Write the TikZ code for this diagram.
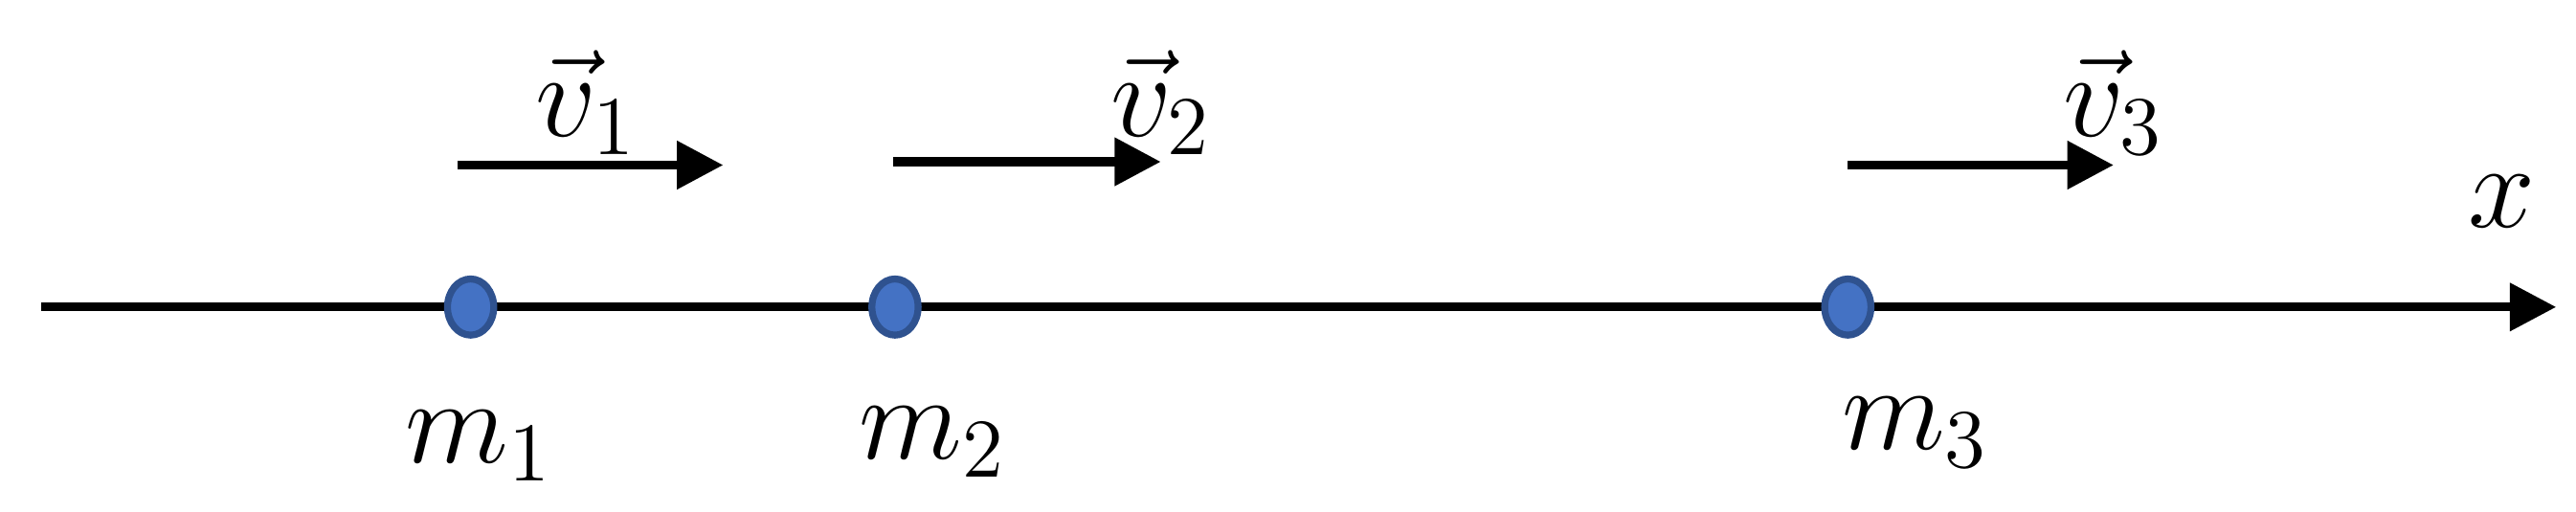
\documentclass[tikz,border=0pt]{standalone}
\usetikzlibrary{arrows.meta,shapes.geometric}
\definecolor{massfill}{HTML}{4472C4}
\definecolor{massline}{HTML}{2F528F}
\begin{document}
\begin{tikzpicture}[x=0.01cm,y=-0.01cm,
    axis/.style={line width=1.5pt,-{Triangle[length=0.28cm,width=0.28cm]}},
    vel/.style={line width=1.6pt,-{Triangle[length=0.28cm,width=0.28cm]}},
    mass/.style={ellipse,minimum width=0.28cm,minimum height=0.34cm,inner sep=0pt,
                 fill=massfill,draw=massline,line width=1.2pt},
    lbl/.style={font=\fontsize{21}{25}\selectfont}]
    \useasboundingbox (0,0) rectangle (1560,310);
    % axis
    \coordinate (o) at (25,186);
    \coordinate (e) at (1548,186);
    \draw [axis] (o) -- (e);
    \node [lbl] (xl) at (1515,122) {$x$};
    % masses
    \node [mass] (m1) at (285,186) {};
    \node [mass] (m2) at (542,186) {};
    \node [mass] (m3) at (1119,186) {};
    \node [lbl] (lm1) at (290,270) {$m_1$};
    \node [lbl] (lm2) at (565,268) {$m_2$};
    \node [lbl] (lm3) at (1160,262) {$m_3$};
    % velocities
    \coordinate (a1) at (277,100);
    \coordinate (b1) at (438,100);
    \coordinate (a2) at (541,98);
    \coordinate (b2) at (703,98);
    \coordinate (a3) at (1119,100);
    \coordinate (b3) at (1280,100);
    \draw [vel] (a1) -- (b1);
    \draw [vel] (a2) -- (b2);
    \draw [vel] (a3) -- (b3);
    \node [lbl] (lv1) at (355,62) {$\vec{v}_1$};
    \node [lbl] (lv2) at (703,62) {$\vec{v}_2$};
    \node [lbl] (lv3) at (1280,62) {$\vec{v}_3$};
\end{tikzpicture}
\end{document}
